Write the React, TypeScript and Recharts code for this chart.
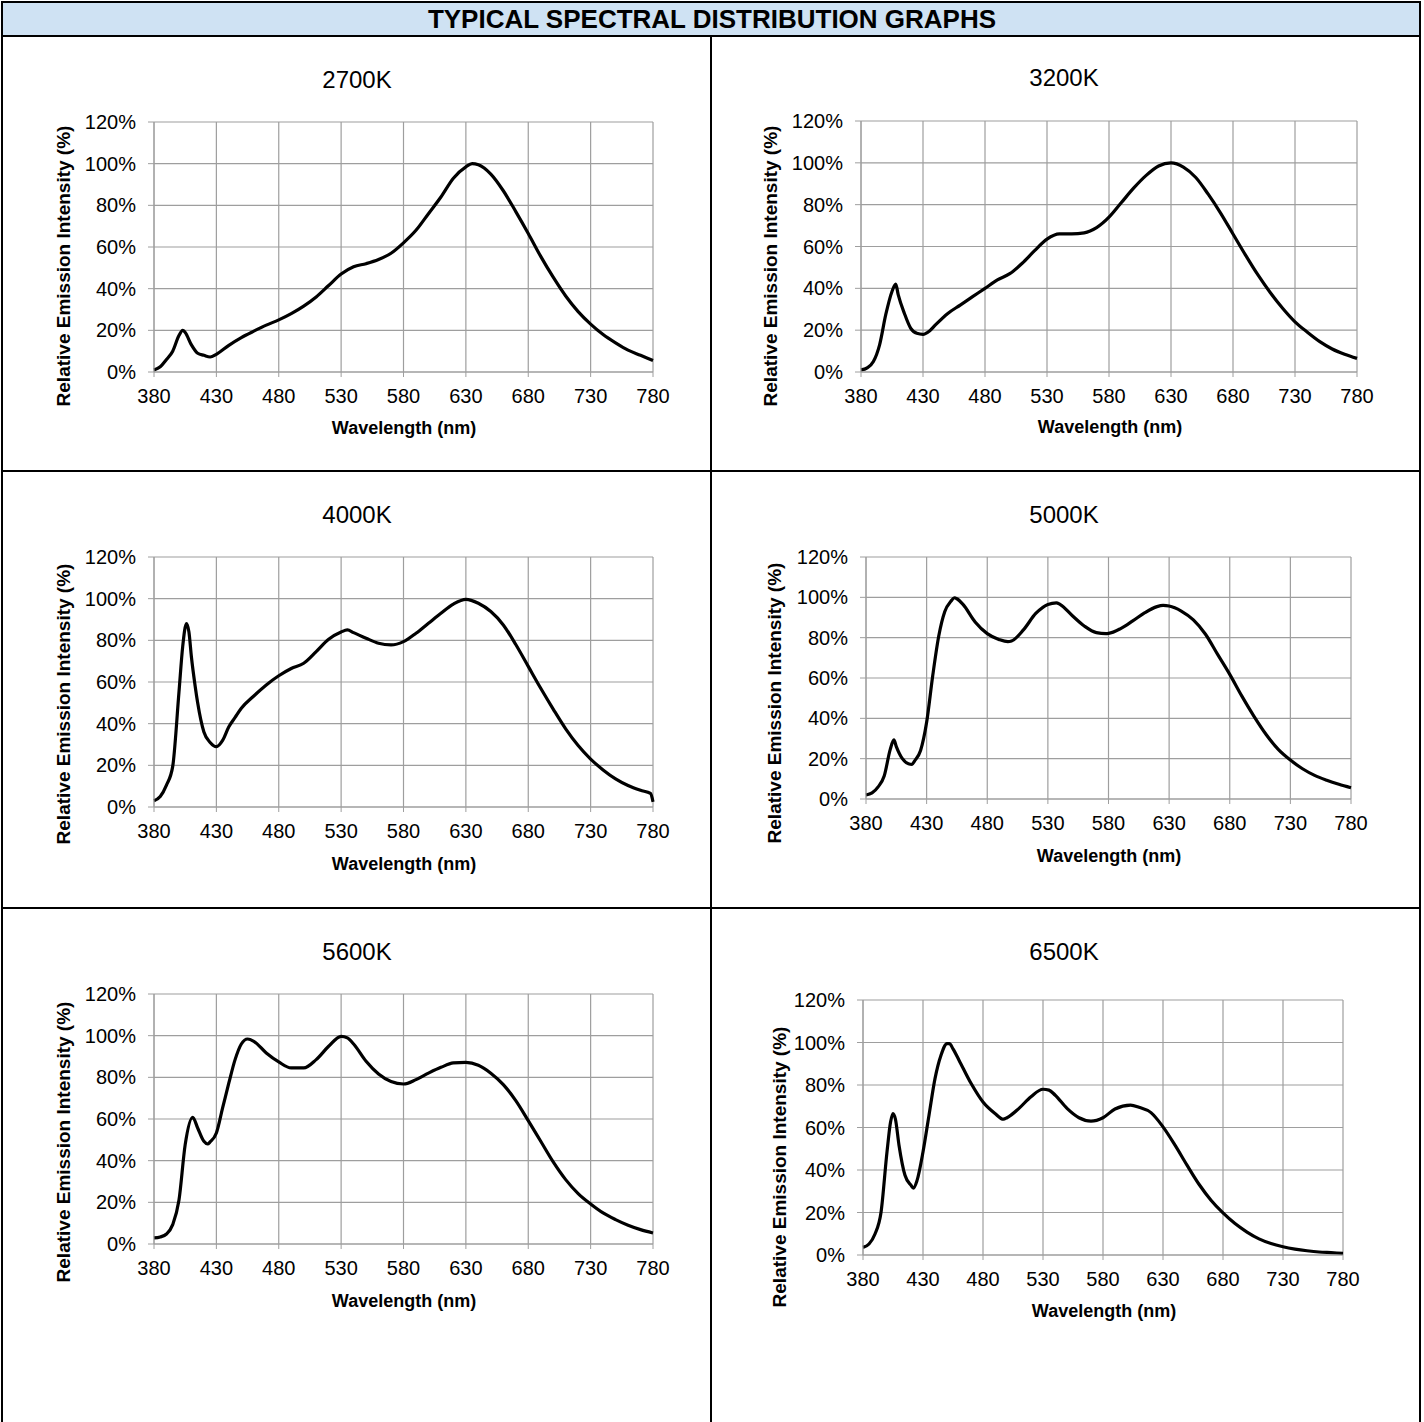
import React from "react";
import { LineChart, Line, XAxis, YAxis, CartesianGrid } from "recharts";

const FONT = '"Liberation Sans", Arial, sans-serif';

const xTicks = [380, 430, 480, 530, 580, 630, 680, 730, 780];
const yTicks = [0, 20, 40, 60, 80, 100, 120];

// 2700K
const nm2700 = [380, 385, 390, 395, 400, 403, 405, 410, 415, 420, 425, 430, 440, 450, 460, 470, 480, 490, 500, 510, 520, 530, 540, 550, 560, 570, 580, 590, 600, 610, 620, 630, 635, 640, 650, 660, 670, 680, 690, 700, 710, 720, 730, 740, 750, 760, 770, 780];
const val2700 = [1, 2.5, 6, 10, 17.5, 20, 19, 13, 9, 8, 7.2, 8.5, 12.8, 16.5, 19.6, 22.5, 25, 28, 31.6, 36, 41.5, 47, 50.5, 52, 54, 57, 62, 68, 76, 84, 93, 98.5, 100, 99.5, 95, 87, 77, 66.5, 55.5, 45.5, 36.5, 29, 23, 18, 14, 10.5, 8, 5.5];

// 3200K
const nm3200 = [380, 385, 390, 395, 400, 405, 408, 410, 415, 420, 425, 430, 435, 440, 450, 460, 470, 480, 490, 500, 510, 520, 530, 540, 550, 560, 570, 580, 590, 600, 610, 620, 630, 640, 650, 660, 670, 680, 690, 700, 710, 720, 730, 740, 750, 760, 770, 780];
const val3200 = [1, 2, 5, 13, 27.5, 38.5, 42, 37, 28, 21, 18.5, 18, 19.5, 22.5, 28, 32, 36, 40, 44, 47, 52, 58, 63.5, 66, 66, 66.5, 69, 74, 81, 88, 94, 98.5, 100, 98, 93, 85, 76, 66, 56, 46.5, 38, 30.5, 24, 19, 14.5, 11, 8.5, 6.5];

// 4000K
const nm4000 = [380, 385, 390, 395, 400, 403, 406, 408, 410, 413, 415, 420, 425, 430, 435, 440, 445, 450, 460, 470, 480, 490, 500, 510, 520, 530, 535, 540, 550, 560, 570, 580, 590, 600, 610, 620, 630, 640, 650, 660, 670, 680, 690, 700, 710, 720, 730, 740, 750, 760, 770, 778, 780];
const val4000 = [3, 5, 10.5, 19.5, 55, 77, 88, 84, 72, 58, 50, 36, 31, 29, 32, 38.5, 43, 47.4, 53.3, 58.6, 63, 66.5, 69, 74.6, 80.5, 84, 85, 83.7, 81, 78.6, 77.8, 79.4, 83.4, 88.2, 93, 97.4, 99.7, 97.8, 93.8, 87.4, 78, 67.5, 57, 47, 37.5, 29.5, 23, 17.8, 13.5, 10.3, 8, 6.5, 2.5];

// 5000K
const nm5000 = [380, 385, 390, 395, 400, 403, 405, 410, 415, 418, 420, 425, 430, 435, 440, 445, 450, 453, 455, 460, 470, 480, 490, 497, 500, 510, 520, 530, 537, 540, 550, 560, 570, 578, 580, 590, 600, 610, 620, 625, 630, 640, 650, 660, 670, 680, 690, 700, 710, 720, 730, 740, 750, 760, 770, 780];
const val5000 = [2, 3, 6, 11.4, 24.6, 29.3, 26, 20, 17.5, 17.2, 18.8, 24, 38, 61, 80.8, 93, 98, 99.8, 99.3, 96.5, 87.8, 82, 79, 78, 78.3, 84, 92, 96.5, 97.3, 96.5, 91, 85.8, 82.5, 82, 82.1, 84.5, 88.3, 92.4, 95.4, 96, 95.7, 93.2, 88.8, 81.7, 71.7, 61.8, 51, 41, 32, 24.6, 19.3, 15, 11.7, 9.3, 7.3, 5.6];

// 5600K
const nm5600 = [380, 385, 390, 395, 400, 405, 411, 415, 420, 423, 425, 430, 435, 440, 445, 450, 455, 460, 470, 480, 490, 500, 510, 520, 530, 535, 540, 550, 560, 570, 580, 590, 600, 610, 620, 630, 640, 650, 660, 670, 680, 690, 700, 710, 720, 730, 740, 750, 760, 770, 780];
const val5600 = [2.9, 3.4, 4.8, 9.3, 21, 47.7, 60.8, 55.7, 49.3, 48, 49, 53.3, 65.3, 77.3, 88.5, 96, 98.4, 97.3, 91.7, 87.4, 84.5, 84.5, 88.5, 94.9, 99.7, 98.9, 96, 87.7, 81.6, 78, 76.8, 78.9, 82, 84.8, 86.9, 87.2, 85.8, 82, 76.5, 68.8, 59.2, 49.3, 39.4, 30.9, 24.2, 19.2, 14.9, 11.7, 9, 6.9, 5.3];

// 6500K
const nm6500 = [380, 385, 390, 395, 400, 403, 405, 407, 410, 415, 420, 422, 425, 430, 435, 440, 445, 450, 452, 455, 460, 470, 480, 490, 497, 500, 510, 520, 530, 535, 540, 550, 560, 570, 580, 590, 603, 610, 620, 630, 640, 650, 660, 670, 680, 690, 700, 710, 720, 730, 740, 750, 760, 770, 780];
const val6500 = [3.6, 5.2, 9.9, 20, 48.5, 62.7, 66.6, 64, 51.7, 37.5, 32.8, 31.5, 35, 48.5, 65.8, 83, 94, 99.5, 99.5, 97, 91.7, 80.8, 72, 66.6, 63.9, 64.6, 69, 74.5, 78, 77.6, 75.3, 69, 64.6, 63, 64.6, 68.7, 70.5, 69.5, 67, 60.3, 51.7, 42.3, 33.3, 25.8, 19.8, 14.8, 10.8, 7.6, 5.4, 3.9, 2.8, 2, 1.4, 1.1, 0.8];

const toRows = (nm: number[], v: number[]) => nm.map((x, i) => ({ nm: x, v: v[i] }));

type PanelProps = {
  title: string;
  data: { nm: number; v: number }[];
  plot: [number, number, number, number]; // left, top, width, height
  titlePos: [number, number];
  yLabelPos: [number, number];
  xLabelPos: [number, number];
};

function Panel({ title, data, plot, titlePos, yLabelPos, xLabelPos }: PanelProps) {
  const [pl, pt, pw, ph] = plot;
  return (
    <>
      <div style={{ position: "absolute", left: titlePos[0], top: titlePos[1], transform: "translate(-50%, -50%)", fontSize: 24, whiteSpace: "nowrap" }}>
        {title}
      </div>
      <div style={{ position: "absolute", left: yLabelPos[0], top: yLabelPos[1], transform: "translate(-50%, -50%) rotate(-90deg)", fontSize: 19, fontWeight: "bold", whiteSpace: "nowrap" }}>
        Relative Emission Intensity (%)
      </div>
      <div style={{ position: "absolute", left: xLabelPos[0], top: xLabelPos[1], transform: "translate(-50%, -50%)", fontSize: 18, fontWeight: "bold", whiteSpace: "nowrap" }}>
        Wavelength (nm)
      </div>
      <div style={{ position: "absolute", left: pl - 100, top: pt - 20 }}>
        <LineChart width={pw + 130} height={ph + 100} data={data} margin={{ top: 20, right: 30, left: 0, bottom: 20 }}>
          <CartesianGrid stroke="#9e9e9e" strokeWidth={1.2} />
          <XAxis
            dataKey="nm"
            type="number"
            domain={[380, 780]}
            ticks={xTicks}
            height={60}
            tickSize={5}
            tickMargin={12}
            stroke="#9e9e9e"
            tick={{ fill: "#000", fontSize: 20, fontFamily: FONT }}
          />
          <YAxis
            type="number"
            domain={[0, 120]}
            ticks={yTicks}
            width={100}
            tickSize={6}
            tickMargin={12}
            stroke="#9e9e9e"
            tickFormatter={(v) => `${v}%`}
            tick={{ fill: "#000", fontSize: 20, fontFamily: FONT }}
          />
          <Line type="monotone" dataKey="v" stroke="#000" strokeWidth={3.2} dot={false} isAnimationActive={false} />
        </LineChart>
      </div>
    </>
  );
}

export default function App() {
  const line = "#000";
  return (
    <div style={{ position: "absolute", left: 0, top: 0, width: 1424, height: 1422, background: "#fff", fontFamily: FONT, color: "#000", overflow: "hidden" }}>
      {/* table frame */}
      <div style={{ position: "absolute", left: 2, top: 2, width: 1418, height: 33, background: "#cfe2f3" }} />
      <div style={{ position: "absolute", left: 0, top: 19, width: 1424, transform: "translateY(-50%)", textAlign: "center", fontSize: 26, fontWeight: "bold" }}>
        TYPICAL SPECTRAL DISTRIBUTION GRAPHS
      </div>
      <div style={{ position: "absolute", left: 1, top: 1, width: 1420, height: 2, background: line }} />
      <div style={{ position: "absolute", left: 1, top: 35, width: 1420, height: 2, background: line }} />
      <div style={{ position: "absolute", left: 1, top: 470, width: 1420, height: 2, background: line }} />
      <div style={{ position: "absolute", left: 1, top: 907, width: 1420, height: 2, background: line }} />
      <div style={{ position: "absolute", left: 1, top: 1, width: 2, height: 1421, background: line }} />
      <div style={{ position: "absolute", left: 1419, top: 1, width: 2, height: 1421, background: line }} />
      <div style={{ position: "absolute", left: 710, top: 35, width: 2, height: 1387, background: line }} />

      <Panel title="2700K" data={toRows(nm2700, val2700)} plot={[154, 122, 499, 250]} titlePos={[357, 80]} yLabelPos={[64, 266]} xLabelPos={[404, 428]} />
      <Panel title="3200K" data={toRows(nm3200, val3200)} plot={[861, 121, 496, 251]} titlePos={[1064, 78]} yLabelPos={[771, 266]} xLabelPos={[1110, 427]} />
      <Panel title="4000K" data={toRows(nm4000, val4000)} plot={[154, 557, 499, 250]} titlePos={[357, 515]} yLabelPos={[64, 704]} xLabelPos={[404, 864]} />
      <Panel title="5000K" data={toRows(nm5000, val5000)} plot={[866, 557, 485, 242]} titlePos={[1064, 515]} yLabelPos={[775, 703]} xLabelPos={[1109, 856]} />
      <Panel title="5600K" data={toRows(nm5600, val5600)} plot={[154, 994, 499, 250]} titlePos={[357, 952]} yLabelPos={[64, 1142]} xLabelPos={[404, 1301]} />
      <Panel title="6500K" data={toRows(nm6500, val6500)} plot={[863, 1000, 480, 255]} titlePos={[1064, 952]} yLabelPos={[780, 1167]} xLabelPos={[1104, 1311]} />
    </div>
  );
}
